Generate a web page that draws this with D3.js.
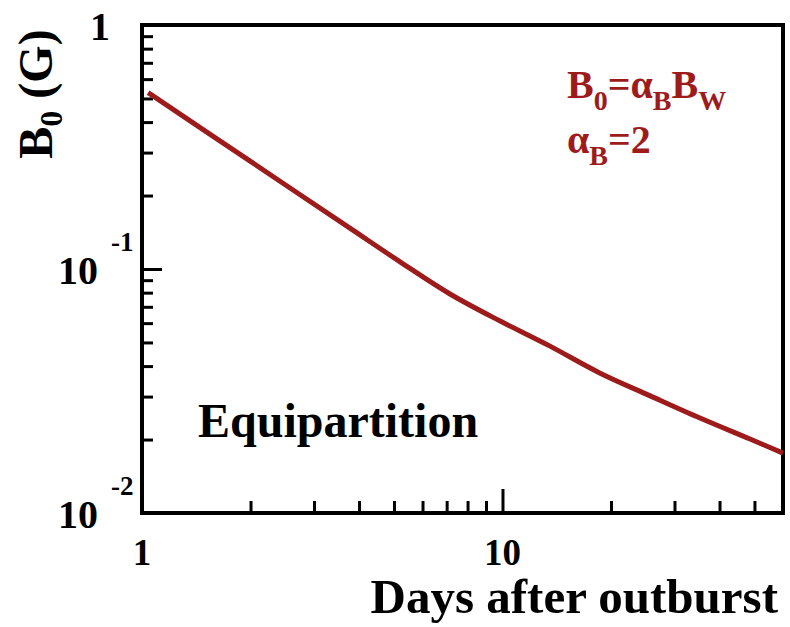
<!DOCTYPE html>
<html>
<head>
<meta charset="utf-8">
<script src="https://cdn.jsdelivr.net/npm/d3@7"></script>
<style>
  html, body { margin: 0; padding: 0; background: #fff; }
  svg { display: block; }
</style>
</head>
<body>
<svg id="chart" width="790" height="627"></svg>
<script>
// ---- data ----
const days = [1.04, 2, 3.8, 5.2, 7.15, 9.85, 13.5, 18.6, 25.7, 35.3, 48.6, 60];
const b0 = [0.528, 0.276, 0.146, 0.107, 0.079, 0.0612, 0.0484, 0.0375, 0.0302, 0.0245, 0.0201, 0.0176];
const xMajorTicks = [1, 10];
const xMinorTicks = [2, 3, 4, 5, 6, 7, 8, 9, 20, 30, 40, 50];
const yMajorTicks = [0.01, 0.1, 1];
const yMinorTicks = [0.02, 0.03, 0.04, 0.05, 0.06, 0.07, 0.08, 0.09,
                     0.2, 0.3, 0.4, 0.5, 0.6, 0.7, 0.8, 0.9];
const xTickLabels = ["1", "10"];
const yTickLabels = [{base: "10", exp: "-2"}, {base: "10", exp: "-1"}, {base: "1", exp: ""}];

const FONT = '"Liberation Serif", "Times New Roman", Times, serif';
const red = "#9e1b1b";
const svg = d3.select("#chart");
const m = {left: 142, top: 25, right: 783, bottom: 513};

const x = d3.scaleLog().domain([1, 60]).range([m.left, m.right]);
const y = d3.scaleLog().domain([0.01, 1]).range([m.bottom, m.top]);

function txt(sel) {
  return sel.style("font-family", FONT).attr("font-weight", "bold");
}

// ticks (inward)
const gx = svg.append("g").attr("transform", `translate(0,${m.bottom})`);
gx.call(d3.axisTop(x).tickValues(xMajorTicks).tickSize(24).tickFormat(""));
gx.append("g").call(d3.axisTop(x).tickValues(xMinorTicks).tickSize(12).tickFormat(""));
const gy = svg.append("g").attr("transform", `translate(${m.left},0)`);
gy.call(d3.axisRight(y).tickValues(yMajorTicks).tickSize(20).tickFormat(""));
gy.append("g").call(d3.axisRight(y).tickValues(yMinorTicks).tickSize(11).tickFormat(""));
svg.selectAll(".domain").remove();
svg.selectAll(".tick line").attr("stroke", "#000").attr("stroke-width", 3);

// frame
svg.append("rect")
  .attr("x", m.left).attr("y", m.top)
  .attr("width", m.right - m.left).attr("height", m.bottom - m.top)
  .attr("fill", "none").attr("stroke", "#000").attr("stroke-width", 4);

// curve
const pts = days.map((d, i) => [d, b0[i]]);
svg.append("path")
  .datum(pts)
  .attr("fill", "none")
  .attr("stroke", red)
  .attr("stroke-width", 5)
  .attr("stroke-linecap", "butt")
  .attr("d", d3.line().x(d => x(d[0])).y(d => y(d[1])).curve(d3.curveCatmullRom.alpha(0.5)));

// x tick labels
xMajorTicks.forEach((v, i) => {
  txt(svg.append("text")).attr("x", x(v)).attr("y", 565)
    .attr("text-anchor", "middle").attr("font-size", 37).text(xTickLabels[i]);
});

// y tick labels
yMajorTicks.forEach((v, i) => {
  const lab = yTickLabels[i];
  if (lab.exp) {
    txt(svg.append("text")).attr("x", 98).attr("y", y(v) + 15)
      .attr("text-anchor", "end").attr("font-size", 40).text(lab.base);
    txt(svg.append("text")).attr("x", 111).attr("y", y(v) - 18)
      .attr("font-size", 27).text(lab.exp);
  } else {
    txt(svg.append("text")).attr("x", 110).attr("y", y(v) + 15)
      .attr("text-anchor", "end").attr("font-size", 40).text(lab.base);
  }
});

// axis titles
txt(svg.append("text")).attr("x", 778).attr("y", 613)
  .attr("text-anchor", "end").attr("font-size", 49).text("Days after outburst");

const yt = txt(svg.append("text"))
  .attr("transform", "translate(52,94) rotate(-90)")
  .attr("text-anchor", "middle").attr("font-size", 48);
yt.append("tspan").text("B");
yt.append("tspan").attr("font-size", 32).attr("dy", 10).text("0");
yt.append("tspan").attr("dy", -10).text(" (G)");

// annotations
txt(svg.append("text")).attr("x", 198).attr("y", 437).attr("font-size", 48).text("Equipartition");

const a1 = txt(svg.append("text")).attr("x", 567).attr("y", 98).attr("font-size", 40).attr("fill", red);
a1.append("tspan").text("B");
a1.append("tspan").attr("font-size", 28).attr("dy", 12).text("0");
a1.append("tspan").attr("dy", -12).text("=α");
a1.append("tspan").attr("font-size", 28).attr("dy", 12).text("B");
a1.append("tspan").attr("dy", -12).text("B");
a1.append("tspan").attr("font-size", 28).attr("dy", 12).text("W");

const a2 = txt(svg.append("text")).attr("x", 567).attr("y", 153).attr("font-size", 40).attr("fill", red);
a2.append("tspan").text("α");
a2.append("tspan").attr("font-size", 28).attr("dy", 12).text("B");
a2.append("tspan").attr("dy", -12).text("=2");
</script>
</body>
</html>
